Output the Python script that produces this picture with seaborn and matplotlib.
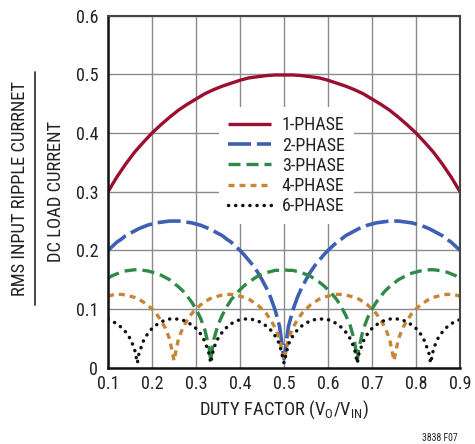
import numpy as np
import pandas as pd
import matplotlib
matplotlib.use("Agg")
import matplotlib.pyplot as plt
from matplotlib.lines import Line2D
from matplotlib import font_manager
import seaborn as sns

# ---------------- data ----------------
grid = np.round(np.arange(0.10, 0.9001, 0.01), 4)
x1 = np.round(np.arange(0.10, 0.9001, 0.02), 4)
y1 = [0.300, 0.325, 0.347, 0.367, 0.384, 0.400, 0.414, 0.427, 0.439, 0.449,
      0.458, 0.467, 0.474, 0.480, 0.485, 0.490, 0.494, 0.496, 0.498, 0.499,
      0.499,
      0.499, 0.498, 0.496, 0.494, 0.490, 0.485, 0.480, 0.474, 0.467, 0.458,
      0.449, 0.439, 0.427, 0.414, 0.400, 0.384, 0.367, 0.347, 0.325, 0.300]

x2 = grid
y2 = [0.200, 0.207, 0.214, 0.219, 0.225, 0.229, 0.233, 0.237, 0.240, 0.243,
      0.245, 0.247, 0.248, 0.249, 0.250, 0.250, 0.250, 0.249, 0.248, 0.247,
      0.245, 0.243, 0.240, 0.237, 0.233, 0.229, 0.225, 0.219, 0.214, 0.207,
      0.200, 0.192, 0.183, 0.174, 0.163, 0.150, 0.136, 0.119, 0.098, 0.070,
      0.015,
      0.070, 0.098, 0.119, 0.136, 0.150, 0.163, 0.174, 0.183, 0.192, 0.200,
      0.207, 0.214, 0.219, 0.225, 0.229, 0.233, 0.237, 0.240, 0.243, 0.245,
      0.247, 0.248, 0.249, 0.250, 0.250, 0.250, 0.249, 0.248, 0.247, 0.245,
      0.243, 0.240, 0.237, 0.233, 0.229, 0.225, 0.219, 0.214, 0.207, 0.200]

x3 = np.sort(np.concatenate([grid, [0.3333, 0.6667]]))
y3 = [0.153, 0.157, 0.160, 0.163, 0.165, 0.166, 0.167, 0.167, 0.166, 0.165,
      0.163, 0.161, 0.158, 0.154, 0.150, 0.144, 0.138, 0.131, 0.122, 0.112,
      0.100, 0.085, 0.065, 0.033, 0.012, 0.047, 0.073, 0.090, 0.104, 0.116,
      0.125, 0.133, 0.140, 0.146, 0.151, 0.156, 0.159, 0.162, 0.164, 0.166,
      0.166, 0.167,
      0.166, 0.166, 0.164, 0.162, 0.159, 0.156, 0.151, 0.146, 0.140, 0.133,
      0.125, 0.116, 0.104, 0.090, 0.073, 0.047, 0.012, 0.033, 0.065, 0.085,
      0.100, 0.112, 0.122, 0.131, 0.138, 0.144, 0.150, 0.154, 0.158, 0.161,
      0.163, 0.165, 0.166, 0.167, 0.167, 0.166, 0.165, 0.163, 0.160, 0.157,
      0.153]

x4 = grid
y4 = [0.122, 0.124, 0.125, 0.125, 0.124, 0.122, 0.120, 0.117, 0.112, 0.107,
      0.100, 0.092, 0.081, 0.068, 0.049, 0.012,
      0.049, 0.068, 0.081, 0.092, 0.100, 0.107, 0.112, 0.117, 0.120, 0.122,
      0.124, 0.125, 0.125, 0.124, 0.122, 0.120, 0.117, 0.112, 0.107, 0.100,
      0.092, 0.081, 0.068, 0.049, 0.012,
      0.049, 0.068, 0.081, 0.092, 0.100, 0.107, 0.112, 0.117, 0.120, 0.122,
      0.124, 0.125, 0.125, 0.124, 0.122, 0.120, 0.117, 0.112, 0.107, 0.100,
      0.092, 0.081, 0.068, 0.049, 0.012,
      0.049, 0.068, 0.081, 0.092, 0.100, 0.107, 0.112, 0.117, 0.120, 0.122,
      0.124, 0.125, 0.125, 0.124, 0.122]

x6 = np.sort(np.concatenate([grid, [0.1667, 0.3333, 0.6667, 0.8333]]))
y6 = [0.082, 0.079, 0.075, 0.069, 0.061, 0.050, 0.033, 0.008, 0.023, 0.045,
      0.058, 0.067, 0.073, 0.078, 0.081, 0.083, 0.083, 0.083, 0.081, 0.078,
      0.073, 0.067, 0.058, 0.045, 0.023, 0.008, 0.033, 0.050, 0.061, 0.069,
      0.075, 0.079, 0.082, 0.083, 0.083, 0.082, 0.080, 0.076, 0.071, 0.064,
      0.054, 0.040, 0.008,
      0.040, 0.054, 0.064, 0.071, 0.076, 0.080, 0.082, 0.083, 0.083, 0.082,
      0.079, 0.075, 0.069, 0.061, 0.050, 0.033, 0.008, 0.023, 0.045, 0.058,
      0.067, 0.073, 0.078, 0.081, 0.083, 0.083, 0.083, 0.081, 0.078, 0.073,
      0.067, 0.058, 0.045, 0.023, 0.008, 0.033, 0.050, 0.061, 0.069, 0.075,
      0.079, 0.082]

labels = ["1-PHASE", "2-PHASE", "3-PHASE", "4-PHASE", "6-PHASE"]
x_ticks = [0.1, 0.2, 0.3, 0.4, 0.5, 0.6, 0.7, 0.8, 0.9]
y_ticks = [0, 0.1, 0.2, 0.3, 0.4, 0.5, 0.6]
y_tick_labels = ["0", "0.1", "0.2", "0.3", "0.4", "0.5", "0.6"]

# ---------------- style ----------------
sns.set_style("white")
installed = {f.name for f in font_manager.fontManager.ttflist}
candidates = ["Liberation Sans Narrow", "Roboto Condensed", "Open Sans Condensed",
              "DejaVu Sans Condensed", "Liberation Sans"]
FONTNAME = next(c for c in candidates if c in installed)
plt.rcParams["font.family"] = [FONTNAME, "DejaVu Sans"]
plt.rcParams["mathtext.fontset"] = "custom"
plt.rcParams["mathtext.rm"] = FONTNAME
plt.rcParams["mathtext.it"] = FONTNAME
TXT = "#222222"

colors = ["#9b0f30", "#3d5fb4", "#2f8a48", "#c98536", "#111111"]
widths = [2.4, 2.6, 2.4, 2.4, 2.5]
styles = [
    (0, ()),
    (0, (6.4, 1.6)),
    (0, (3.6, 1.8)),
    (0, (1.8, 1.5)),
    (0, (0.05, 2.0)),
]

fig = plt.figure(figsize=(4.75, 4.44), dpi=100)
ax = fig.add_axes([0.2274, 0.1718, 0.741, 0.7928])

series = [(x1, y1), (x2, y2), (x3, y3), (x4, y4), (x6, y6)]
for (xs, ys), lab, col, ls, lw in zip(series, labels, colors, styles, widths):
    df = pd.DataFrame({"duty": xs, "ripple": ys})
    sns.lineplot(data=df, x="duty", y="ripple", ax=ax, color=col,
                 linewidth=lw, label=lab, linestyle=ls,
                 dash_capstyle="round" if lab == "6-PHASE" else "butt",
                 solid_capstyle="butt")

ax.set_xlim(0.1, 0.9)
ax.set_ylim(0, 0.6)
ax.set_xticks(x_ticks)
ax.set_xticklabels([f"{v:.1f}" for v in x_ticks])
ax.set_yticks(y_ticks)
ax.set_yticklabels(y_tick_labels)
ax.tick_params(axis="both", length=0, labelsize=13, colors=TXT)
ax.tick_params(axis="y", pad=7)
ax.tick_params(axis="x", pad=5)
ax.grid(True, color="#8a8a8a", linewidth=1.0)
ax.set_axisbelow(True)
for s in ["left", "bottom"]:
    ax.spines[s].set_color("#111111")
    ax.spines[s].set_linewidth(1.8)
for s in ["top", "right"]:
    ax.spines[s].set_color("#444444")
    ax.spines[s].set_linewidth(1.5)

ax.set_xlabel(r"DUTY FACTOR (V$_\mathregular{O}$/V$_\mathregular{IN}$)",
              fontsize=13.3, color=TXT, labelpad=4)
ax.set_ylabel("")

leg = ax.legend(loc="center", bbox_to_anchor=(0.506, 0.574), frameon=True,
                fontsize=13, handlelength=2.4, labelspacing=0.12,
                handletextpad=0.6, borderpad=0.5)
leg.get_frame().set_facecolor("white")
leg.get_frame().set_edgecolor("none")
leg.get_frame().set_alpha(1.0)
for t in leg.get_texts():
    t.set_color(TXT)

# stacked y-axis label (fraction)
fig.text(20 / 475, 1 - 188.5 / 444, "RMS INPUT RIPPLE CURRNET", rotation=90,
         ha="center", va="center", fontsize=13.3, color=TXT)
fig.text(56 / 475, 1 - 191 / 444, "DC LOAD CURRENT", rotation=90,
         ha="center", va="center", fontsize=13.3, color=TXT)
fig.add_artist(Line2D([35 / 475, 35 / 475], [1 - 72 / 444, 1 - 305 / 444],
                      color="#222222", linewidth=1.2, transform=fig.transFigure))

fig.text(440 / 475, 1 - 438 / 444, "3838 F07", ha="center", va="center",
         fontsize=7, color=TXT)

fig.savefig("out.png", dpi=100)
